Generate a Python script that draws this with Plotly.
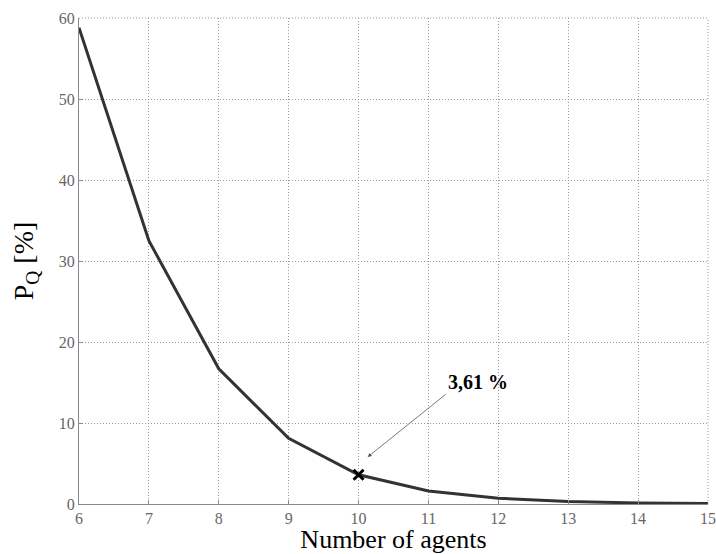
import plotly.graph_objects as go

# Data
agents = [6, 7, 8, 9, 10, 11, 12, 13, 14, 15]
p_q = [58.8, 32.5, 16.7, 8.1, 3.61, 1.6, 0.7, 0.3, 0.13, 0.06]

marked_x = [10]
marked_y = [3.61]
marked_label = "3,61 %"

x_ticks = list(range(6, 16))
y_ticks = [0, 10, 20, 30, 40, 50, 60]

SERIF = "Liberation Serif, Times New Roman, serif"
GRID_DASH = "1px,2px"

fig = go.Figure()

fig.add_trace(go.Scatter(
    x=agents,
    y=p_q,
    mode="lines",
    line=dict(color="#333333", width=3),
    hoverinfo="skip",
))

fig.add_trace(go.Scatter(
    x=marked_x,
    y=marked_y,
    mode="markers",
    marker=dict(symbol="x-thin", size=10, color="black",
                line=dict(color="black", width=3)),
    hoverinfo="skip",
))

# Arrow annotation pointing at the marked point
fig.add_annotation(
    x=10.13, y=5.8,
    ax=11.27, ay=13.7,
    xref="x", yref="y", axref="x", ayref="y",
    text="",
    showarrow=True,
    arrowhead=2,
    arrowsize=1,
    arrowwidth=0.8,
    arrowcolor="#555555",
)
fig.add_annotation(
    x=11.71, y=15.1,
    xref="x", yref="y",
    text="<b>" + marked_label + "</b>",
    showarrow=False,
    font=dict(family=SERIF, size=20, color="black"),
)

fig.update_layout(
    width=716,
    height=554,
    margin=dict(l=79, r=8, t=18, b=50, autoexpand=False),
    paper_bgcolor="white",
    plot_bgcolor="white",
    showlegend=False,
    font=dict(family=SERIF),
)

fig.update_xaxes(
    range=[6, 15],
    tickvals=x_ticks,
    ticks="inside",
    ticklen=4,
    tickcolor="#888888",
    tickfont=dict(family=SERIF, size=16, color="#666666"),
    ticklabeloverflow="allow",
    showgrid=True,
    gridcolor="#999999",
    griddash=GRID_DASH,
    gridwidth=1,
    showline=True,
    linecolor="#888888",
    linewidth=1,
    zeroline=False,
    automargin=False,
    title=dict(text="Number of agents", font=dict(family=SERIF, size=26, color="black"),
               standoff=4),
)

fig.update_yaxes(
    range=[0, 60],
    tickvals=y_ticks,
    ticks="inside",
    ticklen=4,
    tickcolor="#888888",
    tickfont=dict(family=SERIF, size=16, color="#666666"),
    showgrid=True,
    gridcolor="#999999",
    griddash=GRID_DASH,
    gridwidth=1,
    showline=True,
    linecolor="#888888",
    linewidth=1,
    zeroline=False,
    automargin=False,
    title=dict(text="P<sub>Q</sub> [%]", font=dict(family=SERIF, size=28, color="black"),
               standoff=16),
)

# dotted frame on top and right, like the grid
fig.add_shape(type="line", xref="paper", yref="paper", x0=0, x1=1, y0=1, y1=1,
              line=dict(color="#999999", width=1, dash=GRID_DASH))
fig.add_shape(type="line", xref="paper", yref="paper", x0=1, x1=1, y0=0, y1=1,
              line=dict(color="#999999", width=1, dash=GRID_DASH))

# drop the default page margin so the figure sits at the window corner
fig.write_html("out.html", config={"displayModeBar": False},
               post_script="document.body.style.margin='0';")
